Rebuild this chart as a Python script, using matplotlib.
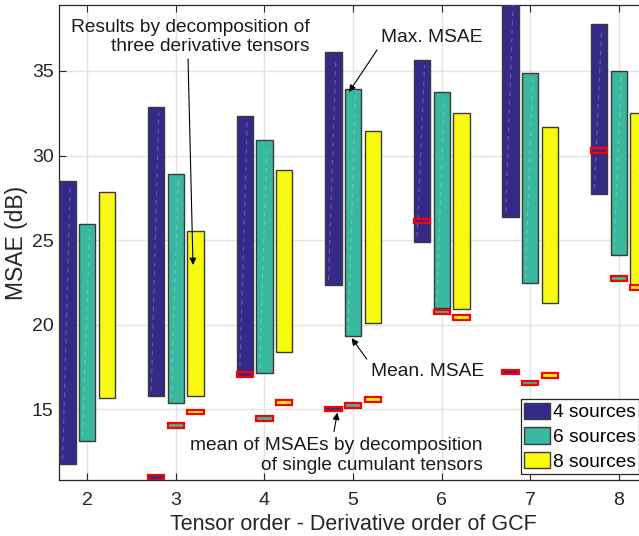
import numpy as np
import matplotlib
matplotlib.use("Agg")
import matplotlib.pyplot as plt
from matplotlib.patches import Patch

plt.rcParams['font.family'] = ['Liberation Sans', 'DejaVu Sans']

orders = [2, 3, 4, 5, 6, 7, 8]
series_labels = ['4 sources', '6 sources', '8 sources']
max4 = [28.5, 32.85, 32.36, 36.12, 35.63, 39.3, 37.76]
mean4 = [11.75, 15.79, 17.22, 22.35, 24.91, 26.39, 27.75]
max6 = [25.95, 28.93, 30.9, 33.95, 33.74, 34.86, 35.02]
mean6 = [13.13, 15.35, 17.16, 19.35, 21.0, 22.45, 24.1]
max8 = [27.83, 25.52, 29.15, 31.47, 32.54, 31.67, 32.54]
mean8 = [15.65, 15.77, 18.37, 20.12, 20.91, 21.27, 22.3]
single4 = [np.nan, 10.96, 17.05, 15.02, 26.13, 17.2, 30.31]
single6 = [np.nan, 14.05, 14.47, 15.24, 20.75, 16.55, 22.75]
single8 = [np.nan, 14.84, 15.41, 15.59, 20.44, 17.01, 22.2]

colors = ['#352A87', '#38B89E', '#F8FA0D']
maxs = [max4, max6, max8]
means = [mean4, mean6, mean8]
singles = [single4, single6, single8]

fig = plt.figure(figsize=(6.39, 5.36), dpi=100)
ax = fig.add_axes([0.0928, 0.1045, 0.9197, 0.8862])

offsets = [-0.222, 0.0, 0.222]
w = 0.185
x = np.array(orders, dtype=float)
for k in range(3):
    xs = x + offsets[k]
    mx = np.array(maxs[k]); mn = np.array(means[k])
    ax.bar(xs, mx - mn, bottom=mn, width=w, color=colors[k],
           edgecolor='#3a3a3a', linewidth=1.0, zorder=3)
    # faint internal dashed line
    for xi, lo, hi in zip(xs, mn, mx):
        ax.plot([xi - 0.3 * w, xi + 0.15 * w], [lo + 0.3, hi - 0.3], ls=(0, (4, 4)),
                color='white', alpha=0.25, lw=0.8, zorder=4)
    sv = np.array(singles[k])
    ok = ~np.isnan(sv)
    ax.bar(xs[ok], 0.28, bottom=sv[ok] - 0.14, width=w, color=colors[k],
           edgecolor='#FF0000', linewidth=1.6, zorder=5)

ax.set_xlim(1.684, 8.317)
ax.set_ylim(10.82, 38.9)
ax.set_xticks(orders)
ax.set_yticks([15, 20, 25, 30, 35])
ax.grid(True, color='#E3E3E3', linewidth=1.0, zorder=0)
ax.set_axisbelow(True)
ax.tick_params(direction='in', length=5, width=0.8, top=True, right=True,
               labelsize=14, colors='#262626')
ax.tick_params(axis='x', pad=8.5)
ax.tick_params(axis='y', pad=4)
for s in ax.spines.values():
    s.set_color('#262626'); s.set_linewidth(0.9)

ax.set_xlabel('Tensor order - Derivative order of GCF', fontsize=15.5, color='#262626', labelpad=4)
ax.set_ylabel('MSAE (dB)', fontsize=16.5, color='#262626', labelpad=3)

fs = 13.8
aprops = dict(arrowstyle='-|>', color='black', lw=0.8, mutation_scale=10, shrinkA=0, shrinkB=0)
ax.annotate('Results by decomposition of\nthree derivative tensors', xy=(3.193, 23.53),
            xytext=(4.513, 37.01), ha='right', va='center', multialignment='right',
            fontsize=fs, color='#1a1a1a', zorder=6)
ax.annotate('', xy=(3.193, 23.53), xytext=(3.137, 35.71), arrowprops=aprops, zorder=6)
ax.annotate('Max. MSAE', xy=(4.954, 33.76), xytext=(5.889, 36.95), ha='center', va='center',
            fontsize=fs, color='#1a1a1a', zorder=6)
ax.annotate('', xy=(4.954, 33.76), xytext=(5.270, 36.24), arrowprops=aprops, zorder=6)
ax.annotate('Mean. MSAE', xy=(4.984, 19.20), xytext=(5.837, 17.26), ha='center', va='center',
            fontsize=fs, color='#1a1a1a', zorder=6)
ax.annotate('', xy=(4.984, 19.20), xytext=(5.154, 17.97), arrowprops=aprops, zorder=6)
ax.annotate('mean of MSAEs by decomposition\nof single cumulant tensors', xy=(4.822, 14.80),
            xytext=(6.466, 12.28), ha='right', va='center', multialignment='right',
            fontsize=fs, color='#1a1a1a', zorder=6)
ax.annotate('', xy=(4.822, 14.80), xytext=(4.784, 13.68), arrowprops=aprops, zorder=6)

handles = [Patch(facecolor=c, edgecolor='#3a3a3a', linewidth=1.0) for c in colors]
leg = ax.legend(handles, series_labels, loc='upper left', bbox_to_anchor=(0.8149, 0.255),
                bbox_transform=fig.transFigure, borderaxespad=0, fontsize=fs,
                handlelength=1.35, handleheight=0.95, handletextpad=0.17, labelspacing=0.3,
                borderpad=0.17, fancybox=False, framealpha=1, edgecolor='#262626')
leg.get_frame().set_linewidth(0.9)
leg.set_zorder(10)

fig.savefig('out.png', dpi=100)
